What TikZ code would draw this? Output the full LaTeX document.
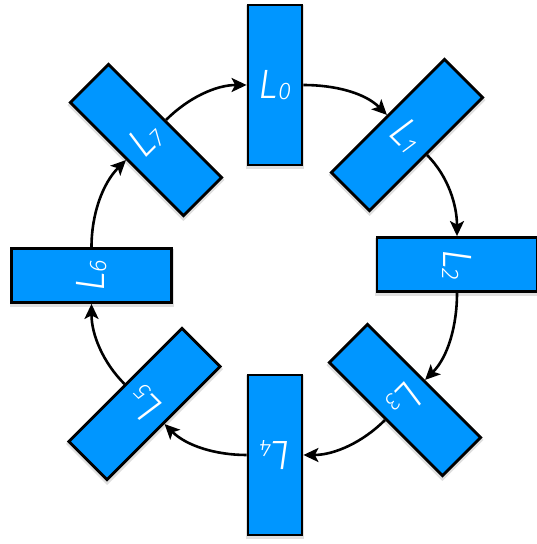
\documentclass[tikz,border=0pt]{standalone}
\usepackage{fontspec}
\newfontfamily\labfont{Fira Sans}[UprightFont=* Light Italic]
\usetikzlibrary{arrows.meta}
\definecolor{boxblue}{RGB}{0,150,255}
\newcommand\lbl[1]{{\labfont\fontsize{41}{41}\selectfont L\raisebox{-1.5pt}{\fontsize{24}{24}\selectfont #1}}}
\tikzset{
  lbox/.style={draw=black, fill=boxblue, line width=2.8pt, minimum width=54pt,
    minimum height=160pt, inner sep=0pt, text=white,
    preaction={draw=black!25, line width=4pt, draw opacity=0.5, transform canvas={yshift=-2.5pt}}},
  arr/.style={line width=2.6pt, -{Stealth[length=15pt,width=14pt,inset=3.5pt]}, looseness=0.9}
}
\begin{document}
\begin{tikzpicture}[x=1pt,y=1pt]
\useasboundingbox (0,0) rectangle (537,544);
\node[lbox, rotate=0]    (L0) at (275,459)   {\lbl{0}};
\node[lbox, rotate=-45]  (L1) at (407,409)   {\lbl{1}};
\node[lbox, rotate=-90]  (L2) at (457,279.5) {\lbl{2}};
\node[lbox, rotate=-135] (L3) at (405,144)   {\lbl{3}};
\node[lbox, rotate=-180] (L4) at (275,89)    {\lbl{4}};
\node[lbox, rotate=-225] (L5) at (144.5,140) {\lbl{5}};
\node[lbox, rotate=-270] (L6) at (91.5,268.5){\lbl{6}};
\node[lbox, rotate=-315] (L7) at (146,404)   {\lbl{7}};
\draw[arr] (L0.east) to[out=0,    in=135] (L1.west);
\draw[arr] (L1.east) to[out=-45,  in=90]  (L2.west);
\draw[arr] (L2.east) to[out=-90,  in=45]  (L3.west);
\draw[arr] (L3.east) to[out=-135, in=0]   (L4.west);
\draw[arr] (L4.east) to[out=180,  in=-45] (L5.west);
\draw[arr] (L5.east) to[out=135,  in=-90] (L6.west);
\draw[arr] (L6.east) to[out=90,   in=-135](L7.west);
\draw[arr] (L7.east) to[out=45,   in=180] (L0.west);
\end{tikzpicture}
\end{document}
